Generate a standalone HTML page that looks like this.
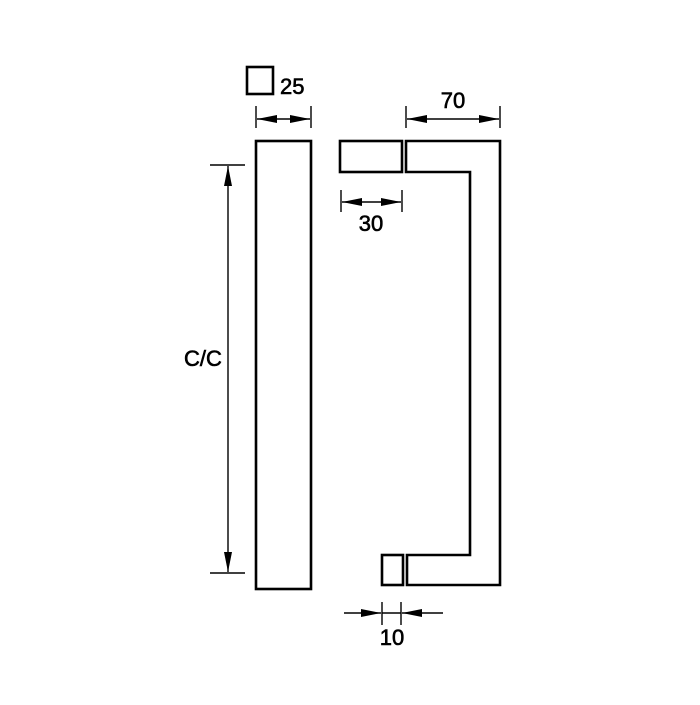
<!DOCTYPE html>
<html><head><style>html,body{margin:0;padding:0;background:#fff}</style></head>
<body>
<svg width="700" height="700" viewBox="0 0 700 700" xmlns="http://www.w3.org/2000/svg">
<defs>
<marker id="a" viewBox="0 0 20 8" refX="20" refY="4" markerWidth="20" markerHeight="8" markerUnits="userSpaceOnUse" orient="auto"><path d="M0,0 L20,4 L0,8 z" fill="#000"/></marker>
</defs>
<g fill="none" stroke="#000" stroke-width="2.6">
<rect x="247" y="67" width="26" height="27"/>
<rect x="256" y="141" width="55" height="448"/>
<rect x="340" y="141" width="62" height="31"/>
<path d="M406,141 H500 V585 H407 V555 H470 V172 H406 Z"/>
<rect x="382" y="555" width="21" height="30"/>
</g>
<g stroke="#000" stroke-width="1.4" fill="none">
<line x1="256" y1="106" x2="256" y2="128"/><line x1="311" y1="106" x2="311" y2="128"/>
<line x1="283" y1="119" x2="257" y2="119" marker-end="url(#a)"/>
<line x1="283" y1="119" x2="310" y2="119" marker-end="url(#a)"/>
<line x1="406" y1="106" x2="406" y2="128"/><line x1="500" y1="106" x2="500" y2="128"/>
<line x1="453" y1="119" x2="407" y2="119" marker-end="url(#a)"/>
<line x1="453" y1="119" x2="499" y2="119" marker-end="url(#a)"/>
<line x1="341" y1="190" x2="341" y2="212"/><line x1="402" y1="190" x2="402" y2="212"/>
<line x1="371" y1="202" x2="342" y2="202" marker-end="url(#a)"/>
<line x1="371" y1="202" x2="401" y2="202" marker-end="url(#a)"/>
<line x1="210" y1="165" x2="245" y2="165"/><line x1="210" y1="573" x2="245" y2="573"/>
<line x1="228" y1="370" x2="228" y2="166" marker-end="url(#a)"/>
<line x1="228" y1="370" x2="228" y2="572" marker-end="url(#a)"/>
<line x1="382" y1="602" x2="382" y2="625"/><line x1="401" y1="602" x2="401" y2="625"/>
<line x1="344" y1="613" x2="381" y2="613" marker-end="url(#a)"/>
<line x1="443" y1="613" x2="402" y2="613" marker-end="url(#a)"/>
<line x1="382" y1="613" x2="401" y2="613"/>
</g>
<g font-family="Liberation Sans, sans-serif" font-size="22" fill="#000" stroke="#000" stroke-width="0.6">
<text x="280" y="94">25</text>
<text x="453" y="108" text-anchor="middle">70</text>
<text x="371" y="231" text-anchor="middle">30</text>
<text x="203" y="366" text-anchor="middle">C/C</text>
<text x="392" y="645" text-anchor="middle">10</text>
</g>
</svg>
</body></html>
